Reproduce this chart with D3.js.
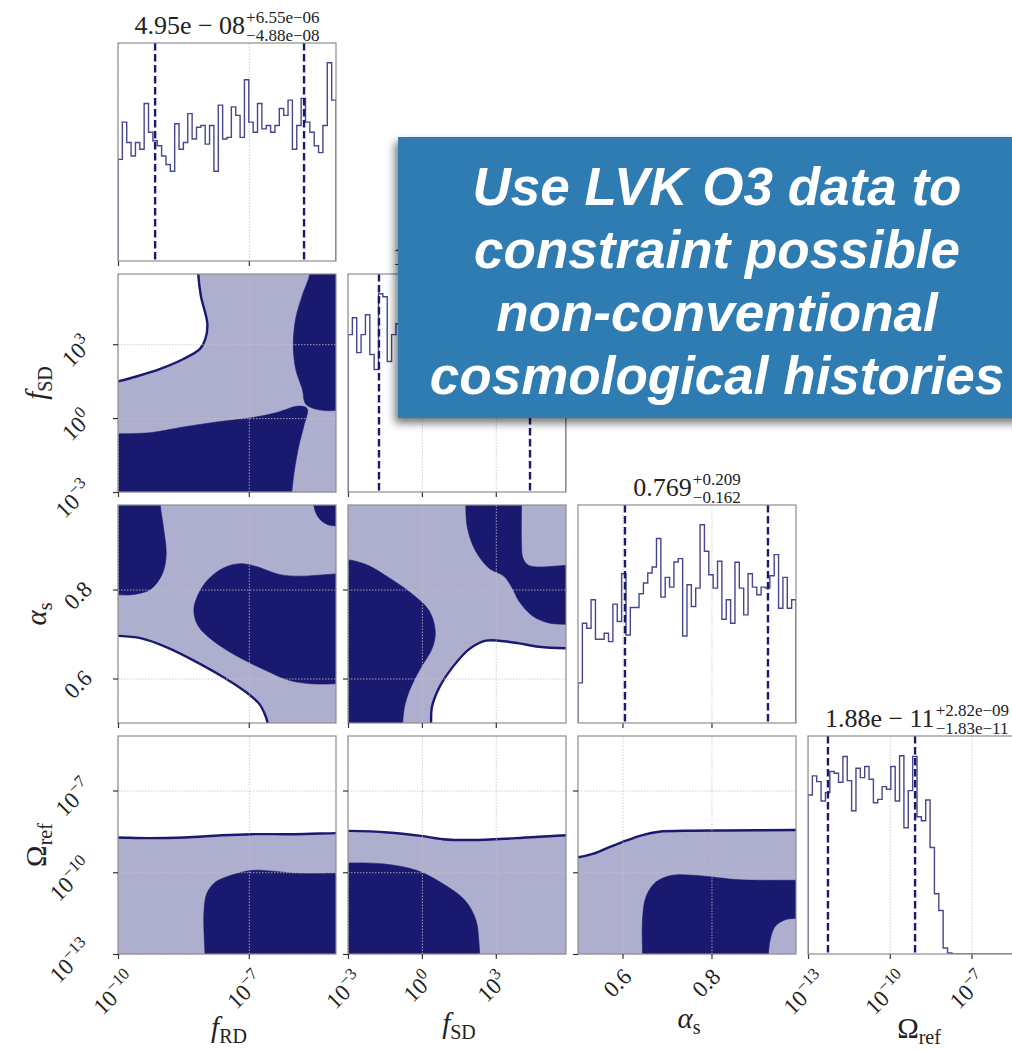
<!DOCTYPE html>
<html>
<head>
<meta charset="utf-8">
<script src="https://cdn.jsdelivr.net/npm/d3@7"></script>
<style>
  html, body { margin: 0; padding: 0; background: #fff; }
  svg { display: block; }
</style>
</head>
<body>
<svg id="chart" width="1012" height="1051"></svg>
<script>
// ================= DATA =================
const params      = ["fRD", "fSD", "alpha", "omega"];
const paramLog    = { fRD: true, fSD: true, alpha: false, omega: true };
const domainFRD   = [1e-10, 1e-5];
const domainFSD   = [1e-3, Math.pow(10, 5.85)];
const domainAlpha = [0.5, 0.99];
const domainOmega = [1e-13, 1e-5];

const labelMain = ["f", "f", "α", "Ω"];
const labelSub  = ["RD", "SD", "s", "ref"];

const tickValsFRD   = [1e-10, 1e-7];
const tickValsFSD   = [1e-3, 1, 1e3];
const tickValsAlpha = [0.6, 0.8];
const tickValsOmega = [1e-13, 1e-10, 1e-7];
const tickLblFRD    = ["10^−10", "10^−7"];
const tickLblFSD    = ["10^−3", "10^0", "10^3"];
const tickLblAlpha  = ["0.6", "0.8"];
const tickLblOmega  = ["10^−13", "10^−10", "10^−7"];

// 1-D histograms (50 bins across each axis range)
const histFRD = [60,82,70,62,70,66,93,76,71,68, 62,57,53,81,66,70,87,72,79,80,
                 69,80,53,92,72,73,91,86,73,107, 82,76,93,78,80,76,80,90,86,95,
                 66,80,96,82,76,68,64,80,117,95];
const histFSD = [158,175,140,158,178,138,123,199,196,131, 158,169,131,150,165,172,145,160,180,155,
                 140,170,162,148,175,158,166,152,140,178, 160,150,168,145,170,155,162,148,172,160,
                 150,165,158,142,170,155,160,150,145,162];
const histAlpha = [120,298,283,368,250,250,268,243,355,303, 446,263,345,345,386,418,448,466,551,376,
                   435,406,481,491,260,413,348,403,592,513, 443,403,483,310,368,298,480,403,323,446,
                   406,383,406,403,440,503,343,435,343,368];
const histOmega = [475,532,515,457,482,545,540,513,590,518, 428,555,527,560,522,452,462,500,492,560,
                   457,592,377,488,590,410,398,460,318,180, 130,18,3,0,0,0,0,0,0,0,
                   0,0,0,0,0,0,0,0,0,0];

// quantile (dashed) lines
const qFRD   = [7.1e-10, 1.85e-6];
const qFSD   = [0.0181, 2.45e4];
const qAlpha = [0.6056, 0.927];
const qOmega = [5.4e-13, 8.5e-10];

// titles above the diagonal
const titleMain = ["4.95e − 08", "1.53", "0.769", "1.88e − 11"];
const titleSup  = ["+6.55e−06", "+2.453e+04", "+0.209", "+2.82e−09"];
const titleSub  = ["−4.88e−08", "−1.51", "−0.162", "−1.83e−11"];

// 2-D credible regions: points in data units (log10 of the value on log axes)
const cFsdFrdWhite = [[-10.25,6.29],[-8.16,6.29],[-8.16,5.85],[-8.10,4.97],[-7.95,3.81],[-8.0,3.2],[-8.12,2.81],
                      [-8.5,2.40],[-9.03,2.0],[-9.64,1.66],[-10,1.49],[-10.25,1.43]];
const cFsdFrdDark1 = [[-5.6,6.29],[-5.6,5.85],[-5.775,4.97],[-5.925,4.03],[-5.98,2.95],[-5.925,2.0],
                      [-5.775,1.19],[-5.66,0.51],[-4.75,0.51],[-4.75,6.29]];
const cFsdFrdDark2 = [[-10.25,-0.637],[-10,-0.637],[-9.26,-0.593],[-8.5,-0.363],[-7.74,-0.159],[-6.985,0.0],
                      [-6.38,0.213],[-5.85,0.487],[-5.66,0.381],[-5.735,-0.30],[-5.85,-1.106],[-5.96,-2.186],
                      [-6.015,-3],[-6.05,-3.44],[-10.25,-3.44]];

const cAlFrdDark1 = [[-10.25,1.0145],[-9.03,1.0145],[-9.03,0.99],[-8.955,0.938],[-8.895,0.878],[-8.99,0.834],
                     [-9.26,0.80],[-9.635,0.789],[-10,0.788],[-10.25,0.788]];
const cAlFrdDark2 = [[-5.51,1.0145],[-5.51,0.99],[-5.45,0.970],[-5.35,0.956],[-5.165,0.945],[-5,0.943],
                     [-4.75,0.943],[-4.75,1.0145]];
const cAlFrdDark3 = [[-4.75,0.835],[-5,0.835],[-5.85,0.830],[-6.305,0.834],[-6.835,0.852],[-7.21,0.858],
                     [-7.59,0.848],[-7.97,0.8185],[-8.195,0.781],[-8.26,0.752],[-8.16,0.718],[-7.82,0.685],
                     [-7.21,0.647],[-6.605,0.618],[-6.075,0.596],[-5.545,0.588],[-5,0.588],[-4.75,0.588]];
const cAlFrdWhite = [[-10.25,0.696],[-10,0.696],[-9.485,0.6906],[-8.88,0.670],[-8.12,0.633],[-7.515,0.599],
                     [-7.06,0.569],[-6.76,0.543],[-6.605,0.513],[-6.57,0.5],[-6.55,0.4755],[-10.25,0.4755]];

const cAlFsdDark1 = [[-3.44,0.867],[-3,0.867],[-2.257,0.856],[-1.32,0.826],[-0.372,0.789],[0.30,0.752],
                     [0.54,0.707],[0.434,0.670],[-0.106,0.618],[-0.504,0.573],[-0.708,0.536],[-0.779,0.5],
                     [-0.79,0.4755],[-3.44,0.4755]];
const cAlFsdDark2 = [[1.78,1.0145],[1.78,0.99],[1.85,0.938],[2.186,0.886],[2.726,0.848],[3.33,0.830],
                     [3.66,0.804],[3.94,0.774],[4.48,0.741],[5.15,0.725],[5.85,0.722],[6.29,0.722],
                     [6.29,0.854],[5.85,0.854],[4.345,0.854],[4.10,0.871],[4.045,0.901],[4.045,0.99],[4.045,1.0145]];
const cAlFsdWhite = [[0.363,0.4755],[0.372,0.5],[0.407,0.536],[0.708,0.580],[1.24,0.625],[1.92,0.666],
                     [2.593,0.685],[3.133,0.685],[3.94,0.679],[4.744,0.6715],[5.85,0.668],[6.29,0.668],[6.29,0.4755]];

const cOmFrdLight = [[-10.25,-8.723],[-10,-8.723],[-9.31,-8.747],[-8.47,-8.723],[-7.625,-8.643],[-6.955,-8.603],
                     [-5.945,-8.603],[-5,-8.563],[-4.75,-8.563],[-4.75,-13.4],[-10.25,-13.4]];
const cOmFrdDark  = [[-8.0,-13.4],[-8.005,-13],[-8.03,-11.516],[-7.965,-10.79],[-7.8,-10.41],[-7.625,-10.24],
                     [-6.955,-9.936],[-6.45,-9.96],[-5.945,-10.04],[-5,-10.04],[-4.75,-10.04],[-4.75,-13.4]];

const cOmFsdLight = [[-3.44,-8.483],[-3,-8.483],[-1.39,-8.539],[-0.044,-8.667],[0.85,-8.787],[2.045,-8.818],
                     [3.83,-8.747],[5.85,-8.643],[6.29,-8.643],[6.29,-13.4],[-3.44,-13.4]];
const cOmFsdDark  = [[-3.44,-9.656],[-3,-9.656],[-1.54,-9.696],[-0.194,-9.936],[0.85,-10.42],[1.744,-11.03],
                     [2.195,-11.76],[2.31,-12.52],[2.345,-13],[2.354,-13.4],[-3.44,-13.4]];

const cOmAlLight = [[0.4755,-9.449],[0.5,-9.449],[0.533,-9.329],[0.5706,-9.082],[0.6078,-8.842],[0.645,-8.635],
                    [0.682,-8.515],[0.757,-8.475],[0.831,-8.467],[0.99,-8.451],[1.0145,-8.451],[1.0145,-13.4],[0.4755,-13.4]];
const cOmAlDark  = [[0.645,-13.4],[0.645,-13],[0.645,-11.747],[0.6529,-10.9],[0.675,-10.36],[0.712,-10.11],
                    [0.757,-10.11],[0.802,-10.175],[0.854,-10.27],[0.906,-10.295],[0.99,-10.295],[1.0145,-10.295],
                    [1.0145,-11.69],[0.99,-11.69],[0.9655,-11.747],[0.943,-11.99],[0.932,-12.48],[0.928,-13],[0.928,-13.4]];

const boxLines = ["Use LVK O3 data to", "constraint possible", "non-conventional", "cosmological histories"];

// ================= SETUP =================
const domains  = { fRD: domainFRD, fSD: domainFSD, alpha: domainAlpha, omega: domainOmega };
const tickVals = { fRD: tickValsFRD, fSD: tickValsFSD, alpha: tickValsAlpha, omega: tickValsOmega };
const tickLbls = { fRD: tickLblFRD, fSD: tickLblFSD, alpha: tickLblAlpha, omega: tickLblOmega };
const hists    = { fRD: histFRD, fSD: histFSD, alpha: histAlpha, omega: histOmega };
const quants   = { fRD: qFRD, fSD: qFSD, alpha: qAlpha, omega: qOmega };

const DARK = "#191970", LIGHT = "#aeaecf", FRAME = "#8e8e8e", GRID = "#c4c4c4", TXT = "#222";
const SERIF = "'Liberation Serif', 'DejaVu Serif', serif";
const S = 218;
const panelX = i => 118 + i * 230;
const panelY = i => 43 + i * 231;

const svg = d3.select("#chart");
const defs = svg.append("defs");
defs.append("filter").attr("id", "shadow").attr("x", "-10%").attr("y", "-10%").attr("width", "130%").attr("height", "140%")
  .append("feDropShadow").attr("dx", -3).attr("dy", 5).attr("stdDeviation", 4)
  .attr("flood-color", "#000").attr("flood-opacity", 0.55);

function makeScale(p, range) {
  return (paramLog[p] ? d3.scaleLog() : d3.scaleLinear()).domain(domains[p]).range(range);
}
const val = (p, v) => paramLog[p] ? Math.pow(10, v) : v;

function binEdges(p) {
  const [a, b] = domains[p];
  if (paramLog[p]) {
    const la = Math.log10(a), lb = Math.log10(b);
    return d3.range(51).map(i => Math.pow(10, la + (lb - la) * i / 50));
  }
  return d3.range(51).map(i => a + (b - a) * i / 50);
}

function drawAxesDecor(g, sx, sy, xp, yp, x0, y0, withY) {
  const gx = g.append("g").attr("transform", `translate(0,${y0 + S})`)
    .call(d3.axisBottom(sx).tickValues(tickVals[xp]).tickSize(-S).tickFormat(""));
  gx.select(".domain").remove();
  gx.selectAll("line").attr("stroke", GRID).attr("stroke-width", 0.8).attr("stroke-dasharray", "1.5,1.5");
  if (withY) {
    const gy = g.append("g").attr("transform", `translate(${x0},0)`)
      .call(d3.axisLeft(sy).tickValues(tickVals[yp]).tickSize(-S).tickFormat(""));
    gy.select(".domain").remove();
    gy.selectAll("line").attr("stroke", GRID).attr("stroke-width", 0.8).attr("stroke-dasharray", "1.5,1.5");
  }
  g.append("rect").attr("class", "frame").attr("x", x0).attr("y", y0).attr("width", S).attr("height", S)
    .attr("fill", "none").attr("stroke", FRAME).attr("stroke-width", 1.2);
  const tx = g.append("g").attr("transform", `translate(0,${y0 + S})`)
    .call(d3.axisBottom(sx).tickValues(tickVals[xp]).tickSize(5).tickFormat(""));
  tx.select(".domain").remove();
  tx.selectAll("line").attr("stroke", "#333").attr("stroke-width", 1.2);
  if (withY) {
    const ty = g.append("g").attr("transform", `translate(${x0},0)`)
      .call(d3.axisLeft(sy).tickValues(tickVals[yp]).tickSize(5).tickFormat(""));
    ty.select(".domain").remove();
    ty.selectAll("line").attr("stroke", "#333").attr("stroke-width", 1.2);
  }
}

function tickText(str, fs) {
  const t = svg.append("text").attr("font-family", SERIF).attr("font-size", fs).attr("fill", TXT);
  const parts = str.split("^");
  t.append("tspan").text(parts[0]);
  if (parts[1] !== undefined) t.append("tspan").attr("dy", -fs * 0.42).attr("font-size", fs * 0.72).text(parts[1]);
  t.attr("transform", "rotate(-45)");
  return t;
}
function placeX(t, cx, top) {
  const b = t.node().getBoundingClientRect();
  t.attr("transform", `translate(${cx - (b.left + b.right) / 2},${top - b.top}) rotate(-45)`);
}
function placeY(t, right, cy) {
  const b = t.node().getBoundingClientRect();
  t.attr("transform", `translate(${right - b.right},${cy - (b.top + b.bottom) / 2}) rotate(-45)`);
}

const curve = d3.curveCatmullRomClosed.alpha(0.5);

// ================= PANELS =================
const panelLayers = {
  "1-0": { base: LIGHT, layers: [{ pts: cFsdFrdWhite, fill: "#fff", line: true }, { pts: cFsdFrdDark1, fill: DARK }, { pts: cFsdFrdDark2, fill: DARK }] },
  "2-0": { base: LIGHT, layers: [{ pts: cAlFrdWhite, fill: "#fff", line: true }, { pts: cAlFrdDark1, fill: DARK }, { pts: cAlFrdDark2, fill: DARK }, { pts: cAlFrdDark3, fill: DARK }] },
  "2-1": { base: LIGHT, layers: [{ pts: cAlFsdWhite, fill: "#fff", line: true }, { pts: cAlFsdDark1, fill: DARK }, { pts: cAlFsdDark2, fill: DARK }] },
  "3-0": { base: "#fff", layers: [{ pts: cOmFrdLight, fill: LIGHT, line: true }, { pts: cOmFrdDark, fill: DARK }] },
  "3-1": { base: "#fff", layers: [{ pts: cOmFsdLight, fill: LIGHT, line: true }, { pts: cOmFsdDark, fill: DARK }] },
  "3-2": { base: "#fff", layers: [{ pts: cOmAlLight, fill: LIGHT, line: true }, { pts: cOmAlDark, fill: DARK }] }
};

const TICK_FS = 23;

params.forEach((yp, r) => {
  params.forEach((xp, c) => {
    if (c > r) return;
    const x0 = panelX(c), y0 = panelY(r);
    const sx = makeScale(xp, [x0, x0 + S]);
    const g = svg.append("g");
    const cid = `clip-${r}-${c}`;
    defs.append("clipPath").attr("id", cid).append("rect").attr("x", x0).attr("y", y0).attr("width", S).attr("height", S);

    if (r === c) {
      const h = hists[xp];
      const sy = d3.scaleLinear().domain([0, 1.1 * d3.max(h)]).range([y0 + S, y0]);
      const edges = binEdges(xp);
      const pts = [[edges[0], 0]];
      h.forEach((v, i) => { pts.push([edges[i], v]); pts.push([edges[i + 1], v]); });
      pts.push([edges[50], 0]);
      drawAxesDecor(g, sx, sy, xp, yp, x0, y0, false);
      const body = g.append("g").attr("clip-path", `url(#${cid})`);
      body.append("path").datum(pts)
        .attr("d", d3.line().x(d => sx(d[0])).y(d => sy(d[1])))
        .attr("fill", "none").attr("stroke", DARK).attr("stroke-width", 1.4).attr("stroke-opacity", 0.8);
      body.selectAll("line.q").data(quants[xp]).enter().append("line")
        .attr("x1", d => sx(d)).attr("x2", d => sx(d)).attr("y1", y0).attr("y2", y0 + S)
        .attr("stroke", DARK).attr("stroke-width", 2.4).attr("stroke-dasharray", "7.5,3.5");
      g.select("rect.frame").raise();
      // title
      const tg = svg.append("g").attr("font-family", SERIF).attr("fill", TXT);
      const base = y0 - 9;
      const tm = tg.append("text").attr("y", base).attr("font-size", 26).text(titleMain[c]);
      const ts = tg.append("text").attr("y", base - 11).attr("font-size", 17).text(titleSup[c]);
      const tb = tg.append("text").attr("y", base + 7).attr("font-size", 17).text(titleSub[c]);
      const mw = tm.node().getComputedTextLength();
      const sw = Math.max(ts.node().getComputedTextLength(), tb.node().getComputedTextLength());
      const tx0 = x0 + S / 2 - (mw + 1 + sw) / 2;
      tm.attr("x", tx0); ts.attr("x", tx0 + mw + 1); tb.attr("x", tx0 + mw + 1);
    } else {
      const sy = makeScale(yp, [y0 + S, y0]);
      const spec = panelLayers[`${r}-${c}`];
      const body = g.append("g").attr("clip-path", `url(#${cid})`);
      body.append("rect").attr("x", sx(domains[xp][0])).attr("y", sy(domains[yp][1]))
        .attr("width", sx(domains[xp][1]) - sx(domains[xp][0])).attr("height", sy(domains[yp][0]) - sy(domains[yp][1]))
        .attr("fill", spec.base);
      const line = d3.line().x(d => sx(val(xp, d[0]))).y(d => sy(val(yp, d[1]))).curve(curve);
      spec.layers.forEach(L => {
        body.append("path").datum(L.pts).attr("d", line)
          .attr("fill", L.fill)
          .attr("stroke", L.line ? DARK : L.fill)
          .attr("stroke-width", L.line ? 2.4 : 0.6);
      });
      drawAxesDecor(g, sx, sy, xp, yp, x0, y0, true);
    }

    if (r === 3) {
      tickVals[xp].forEach((v, i) => {
        const t = tickText(tickLbls[xp][i], TICK_FS);
        placeX(t, sx(v) - 5, y0 + S + 10);
      });
    }
    if (c === 0 && r > 0) {
      const sy = makeScale(yp, [y0 + S, y0]);
      tickVals[yp].forEach((v, i) => {
        const t = tickText(tickLbls[yp][i], TICK_FS);
        placeY(t, x0 - 21, sy(v) + 6);
      });
    }
  });
});

// axis labels
function axisLabel(i, x, y, rot) {
  const t = svg.append("text").attr("font-family", SERIF).attr("fill", TXT).attr("font-size", 29)
    .attr("text-anchor", "middle");
  t.append("tspan").attr("font-style", i === 3 ? "normal" : "italic").text(labelMain[i]);
  t.append("tspan").attr("font-size", 20).attr("dy", 6).text(labelSub[i]);
  t.attr("transform", `translate(${x},${y})` + (rot ? " rotate(-90)" : ""));
}
const xLabelY = [1037, 1033, 1028, 1038];
params.forEach((p, i) => axisLabel(i, panelX(i) + S / 2 + 2, xLabelY[i], false));
[1, 2, 3].forEach(i => axisLabel(i, 46, panelY(i) + S / 2, true));

// ================= ANNOTATION BOX =================
const box = svg.append("g");
box.append("rect").attr("x", 398).attr("y", 137).attr("width", 660).attr("height", 281)
  .attr("fill", "#2e7cb2").attr("filter", "url(#shadow)");
box.selectAll("text").data(boxLines).enter().append("text")
  .attr("x", 717).attr("y", (d, i) => 205 + i * 63)
  .attr("text-anchor", "middle")
  .attr("font-family", "'Liberation Sans', Arial, Helvetica, sans-serif")
  .attr("font-weight", "bold").attr("font-style", "italic").attr("font-size", 53)
  .attr("fill", "#fff").text(d => d);
</script>
</body>
</html>
